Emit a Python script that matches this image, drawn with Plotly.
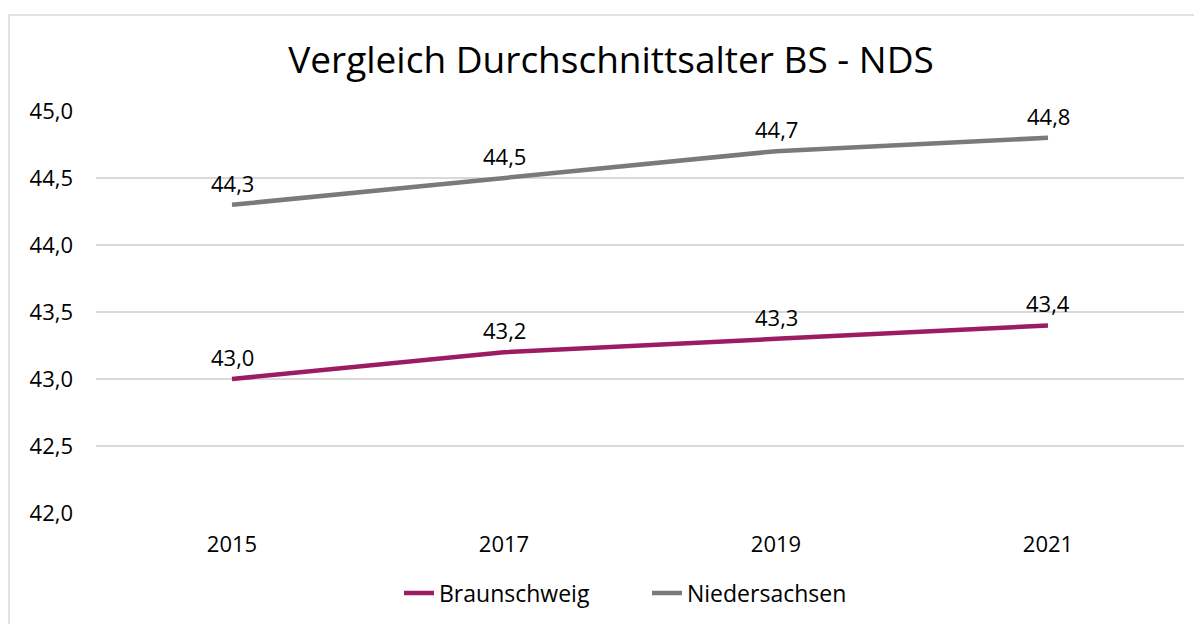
import plotly.graph_objects as go

years = ["2015", "2017", "2019", "2021"]
braunschweig = [43.0, 43.2, 43.3, 43.4]
niedersachsen = [44.3, 44.5, 44.7, 44.8]
y_ticks = [42.0, 42.5, 43.0, 43.5, 44.0, 44.5, 45.0]

FONT = "Open Sans, Noto Sans, sans-serif"
OFF = 8  # page body margin
W, H = 1202, 624
ml, mt = 96 - OFF, 111 - OFF
mr = W - (1184 - OFF)
mb = H - (513 - OFF)
pw, ph = W - ml - mr, H - mt - mb

fig = go.Figure()
series = [("Braunschweig", braunschweig, "#9c1c64"),
          ("Niedersachsen", niedersachsen, "#7a7a7a")]
for name, vals, col in series:
    fig.add_trace(go.Scatter(
        x=years, y=vals, name=name, mode="lines",
        line=dict(color=col, width=4.5),
    ))
    for i, yv in enumerate(vals):
        fig.add_annotation(x=i, y=yv, xref="x", yref="y",
                           text=f"{yv:.1f}".replace(".", ","),
                           showarrow=False, yshift=22,
                           font=dict(size=22, color="#000000", family=FONT))

# outer chart border (partially off-canvas like the reference)
fig.add_shape(type="rect", xref="paper", yref="paper",
              x0=(9 - OFF - ml) / pw, x1=(W + 20 - ml) / pw,
              y0=-(mb + 20) / ph, y1=(H - mb - (15 - OFF)) / ph,
              line=dict(color="#d9d9d9", width=1.5), fillcolor="rgba(0,0,0,0)",
              layer="below")

fig.update_layout(
    width=W, height=H,
    margin=dict(l=ml, r=mr, t=mt, b=mb),
    paper_bgcolor="white", plot_bgcolor="white",
    separators=",.",
    font=dict(family=FONT, size=22, color="#000000"),
    title=dict(text="Vergleich Durchschnittsalter BS - NDS", x=(611 - OFF) / W, xanchor="center",
               y=1 - (60 - OFF) / H, yanchor="middle",
               font=dict(size=37, color="#000000", family=FONT)),
    showlegend=True,
    legend=dict(orientation="h", x=391 / W, xref="container", xanchor="left",
                y=1 - (593 - OFF) / H, yref="container", yanchor="middle",
                font=dict(size=23, color="#000000", family=FONT),
                entrywidth=203, tracegroupgap=0),
    xaxis=dict(type="category", range=[-0.5, 3.5], showgrid=False, zeroline=False,
               showline=False, ticks="", tickfont=dict(size=22), ticklabelstandoff=16),
    yaxis=dict(range=[42, 45], tickvals=y_ticks, tickformat=".1f",
               showgrid=True, gridcolor="#d9d9d9", gridwidth=1.5,
               zeroline=False, showline=False, ticks="", tickfont=dict(size=22),
               ticklabelstandoff=22),
)

fig.write_html("out.html")
